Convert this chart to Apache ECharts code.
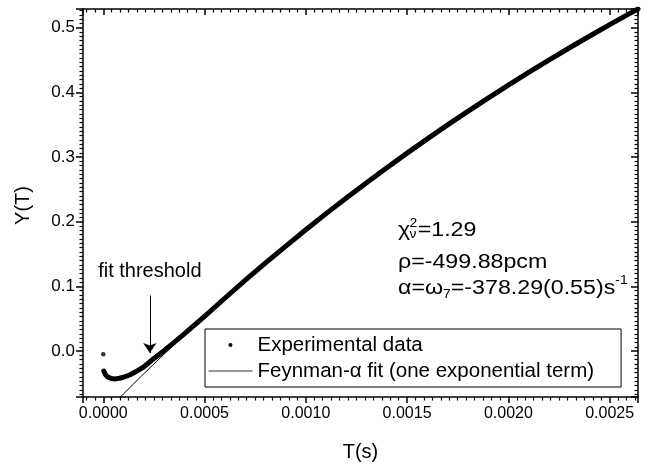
<!DOCTYPE html>
<html>
<head>
<meta charset="utf-8">
<script src="https://cdn.jsdelivr.net/npm/echarts@6/dist/echarts.min.js"></script>
<style>
  html, body { margin: 0; padding: 0; background: #fff; }
  #chart { width: 646px; height: 467px; }
</style>
</head>
<body>
<div id="chart"></div>
<script>
// experimental Feynman-alpha curve
const dataT = [0.000003, 0.00001, 0.00002, 0.00004, 0.00006, 0.00008, 0.0001, 0.00013, 0.00016, 0.0002,
  0.00025, 0.0003, 0.00035, 0.0004, 0.00045, 0.0005, 0.0006, 0.0007, 0.0008, 0.0009,
  0.0010, 0.0011, 0.0012, 0.0013, 0.0014, 0.0015, 0.0016, 0.0017, 0.0018, 0.0019,
  0.0020, 0.0021, 0.0022, 0.0023, 0.0024, 0.0025, 0.0026, 0.00264]
const dataY = [-0.031, -0.036, -0.0395, -0.0425, -0.043, -0.042, -0.0405, -0.037, -0.032, -0.0245,
  -0.0115, 0.0005, 0.0135, 0.0265, 0.040, 0.0536, 0.0817, 0.1092, 0.1359, 0.1620,
  0.1876, 0.2126, 0.2367, 0.2604, 0.2835, 0.3061, 0.3282, 0.3498, 0.3707, 0.3913,
  0.4112, 0.4309, 0.4499, 0.4687, 0.4869, 0.5048, 0.5222, 0.529]
// first point at T = 0 stands apart
const firstPoint = [0, -0.005]

// fitted curve
const fitT = [0.00008, 0.0001, 0.0002, 0.0003, 0.0004, 0.0005, 0.0006, 0.0007, 0.0008, 0.0009,
  0.0010, 0.0011, 0.0012, 0.0013, 0.0014, 0.0015, 0.0016, 0.0017, 0.0018, 0.0019,
  0.0020, 0.0021, 0.0022, 0.0023, 0.0024, 0.0025, 0.0026, 0.00265]
const fitY = [-0.0724, -0.0661, -0.0351, -0.0048, 0.0248, 0.0536, 0.0817, 0.1092, 0.1359, 0.1620,
  0.1876, 0.2126, 0.2367, 0.2604, 0.2835, 0.3061, 0.3282, 0.3498, 0.3707, 0.3913,
  0.4112, 0.4309, 0.4499, 0.4687, 0.4869, 0.5048, 0.5222, 0.5307]

const threshold = 0.00023

const FONT = "'Liberation Sans', Arial, sans-serif"

const chart = echarts.init(document.getElementById('chart'))

const axisCommon = {
  type: 'value',
  axisLine: { show: true, onZero: false, lineStyle: { color: '#000', width: 1.5 } },
  splitLine: { show: false }
}

const txt = (text, x, y, size) => ({
  type: 'text', x, y,
  style: { text, fontSize: size, fontFamily: FONT, fill: '#000', verticalAlign: 'middle' }
})

const option = {
  animation: false,
  backgroundColor: '#fff',
  textStyle: { fontFamily: FONT, color: '#000' },
  grid: { left: 83, right: 8, top: 9, bottom: 68 },
  xAxis: [
    {
      ...axisCommon,
      position: 'bottom',
      min: -0.0001,
      max: 0.00264,
      minInterval: 0.0005,
      maxInterval: 0.0005,
      name: 'T(s)',
      nameLocation: 'middle',
      nameGap: 45,
      nameTextStyle: { fontSize: 20, color: '#000', fontFamily: FONT },
      axisTick: { show: true, inside: false, length: 6, lineStyle: { color: '#000', width: 1.5 } },
      minorTick: { show: true, splitNumber: 12, length: 3.5, lineStyle: { color: '#000', width: 1.2 } },
      axisLabel: {
        show: true, fontSize: 16, color: '#000', fontFamily: FONT, margin: 9,
        showMinLabel: false, showMaxLabel: false,
        formatter: v => v.toFixed(4)
      }
    },
    {
      ...axisCommon,
      position: 'top',
      min: -0.0001,
      max: 0.00264,
      minInterval: 0.0005,
      maxInterval: 0.0005,
      axisTick: { show: true, inside: true, length: 6, lineStyle: { color: '#000', width: 1.5 } },
      minorTick: { show: true, splitNumber: 12, length: 3.5, lineStyle: { color: '#000', width: 1.2 } },
      axisLabel: { show: false }
    }
  ],
  yAxis: [
    {
      ...axisCommon,
      position: 'left',
      min: -0.071,
      max: 0.529,
      minInterval: 0.1,
      maxInterval: 0.1,
      name: 'Y(T)',
      nameLocation: 'middle',
      nameGap: 50,
      nameTextStyle: { fontSize: 20, color: '#000', fontFamily: FONT, padding: [0, 0, 0, -5] },
      axisTick: { show: true, inside: false, length: 7, lineStyle: { color: '#000', width: 1.5 } },
      minorTick: { show: true, splitNumber: 15, length: 3.5, lineStyle: { color: '#000', width: 1.2 } },
      axisLabel: {
        show: true, fontSize: 17, color: '#000', fontFamily: FONT, margin: 8,
        showMinLabel: false, showMaxLabel: false,
        formatter: v => v.toFixed(1)
      }
    },
    {
      ...axisCommon,
      position: 'right',
      min: -0.071,
      max: 0.529,
      minInterval: 0.1,
      maxInterval: 0.1,
      axisTick: { show: true, inside: true, length: 7, lineStyle: { color: '#000', width: 1.5 } },
      minorTick: { show: true, splitNumber: 15, length: 3.5, lineStyle: { color: '#000', width: 1.2 } },
      axisLabel: { show: false }
    }
  ],
  legend: {
    orient: 'vertical',
    left: 205,
    top: 329,
    padding: [5, 27, 5, 3],
    itemWidth: 44,
    itemHeight: 4,
    itemGap: 4,
    backgroundColor: '#fff',
    borderColor: '#000',
    borderWidth: 1,
    selectedMode: false,
    textStyle: { fontSize: 20.5, color: '#000', fontFamily: FONT, lineHeight: 22 },
    data: [
      { name: 'Experimental data', icon: 'circle', itemStyle: { color: '#000' } },
      { name: 'Feynman-α fit (one exponential term)', itemStyle: { color: 'rgba(0,0,0,0)' }, lineStyle: { color: '#333', width: 1 } }
    ]
  },
  series: [
    {
      name: 'Experimental data',
      type: 'line',
      symbol: 'none',
      z: 3,
      data: dataT.map((t, i) => [t, dataY[i]]),
      lineStyle: { color: '#000', width: 5, cap: 'round', join: 'round' },
      itemStyle: { color: '#000' }
    },
    {
      name: 'Experimental data',
      type: 'scatter',
      symbol: 'circle',
      symbolSize: 4.5,
      data: [firstPoint],
      itemStyle: { color: '#000' }
    },
    {
      name: 'Feynman-α fit (one exponential term)',
      type: 'line',
      symbol: 'none',
      z: 2,
      data: fitT.map((t, i) => [t, fitY[i]]),
      lineStyle: { color: '#000', width: 1 },
      itemStyle: { color: '#000' },
      markLine: {
        silent: true,
        symbol: ['none', 'arrow'],
        symbolSize: 10,
        lineStyle: { color: '#000', width: 1, type: 'solid' },
        label: {
          show: true, position: 'start', distance: 14,
          formatter: 'fit threshold',
          fontSize: 20, color: '#000', fontFamily: FONT
        },
        data: [[{ coord: [threshold, 0.086] }, { coord: [threshold, -0.003] }]]
      }
    }
  ],
  graphic: [
    {
      // fit results, drawn a little wider as in the original
      type: 'group', x: 398, y: 230, scaleX: 1.16,
      children: [
        txt('χ', 0, 0, 20),
        txt('2', 10, -6, 12),
        txt('ν', 10, 5, 12),
        txt('=1.29', 17, 0, 20),
        txt('ρ=-499.88pcm', 0, 32, 20),
        {
          type: 'text', x: 0, y: 45,
          style: {
            text: '{m|α=ω}{sub|7}{m|=-378.29(0.55)s}{sup|-1}',
            fontFamily: FONT, fill: '#000',
            rich: {
              m: { fontSize: 20, lineHeight: 26, fontFamily: FONT, fill: '#000' },
              sub: { fontSize: 12, lineHeight: 12, verticalAlign: 'bottom', fontFamily: FONT, fill: '#000' },
              sup: { fontSize: 12, lineHeight: 12, verticalAlign: 'top', fontFamily: FONT, fill: '#000' }
            }
          }
        }
      ]
    }
  ]
}

chart.setOption(option)
window.addEventListener('resize', () => chart.resize())
</script>
</body>
</html>
